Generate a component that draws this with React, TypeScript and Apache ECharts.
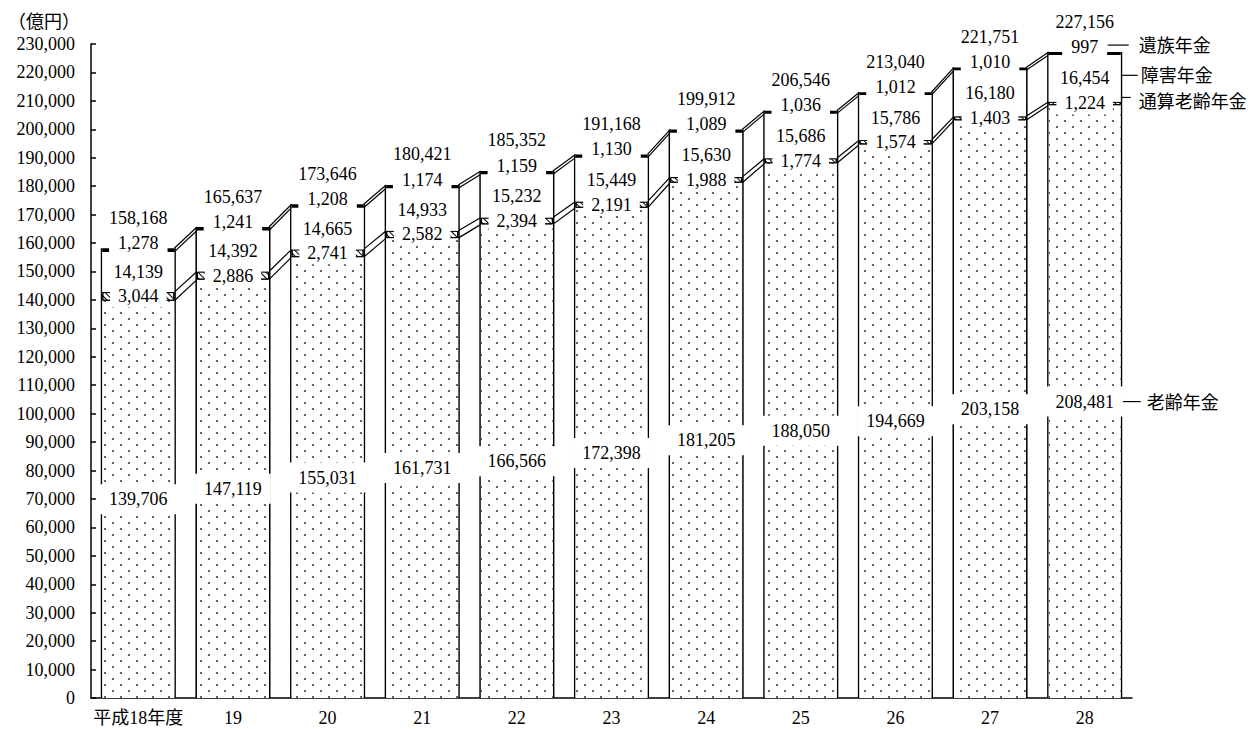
import React, { useEffect, useRef } from 'react';
import * as echarts from 'echarts';

const years = ['平成18年度', '19', '20', '21', '22', '23', '24', '25', '26', '27', '28'];
const roreiNenkin = [139706, 147119, 155031, 161731, 166566, 172398, 181205, 188050, 194669, 203158, 208481];
const tsusanRorei = [3044, 2886, 2741, 2582, 2394, 2191, 1988, 1774, 1574, 1403, 1224];
const shogaiNenkin = [14139, 14392, 14665, 14933, 15232, 15449, 15630, 15686, 15786, 16180, 16454];
const izokuNenkin = [1278, 1241, 1208, 1174, 1159, 1130, 1089, 1036, 1012, 1010, 997];
const totals = [158168, 165637, 173646, 180421, 185352, 191168, 199912, 206546, 213040, 221751, 227156];
const seriesNames = ['老齢年金', '通算老齢年金', '障害年金', '遺族年金'];
const yUnit = '（億円）';
const Y_MIN = 0;
const Y_MAX = 230000;
const Y_INTERVAL = 10000;

const FONT = "'Liberation Serif', 'Noto Sans CJK JP', serif";
const FS = 18;
const BAR_W = 72;
const fmt = (n: number) => n.toLocaleString('en-US');

export default function App() {
  const ref = useRef<HTMLDivElement>(null);
  useEffect(() => {
    const chart = echarts.init(ref.current!, null, { renderer: 'svg' });
    const c1 = roreiNenkin.slice();
    const c2 = c1.map((v, i) => v + tsusanRorei[i]);
    const c3 = c2.map((v, i) => v + shogaiNenkin[i]);
    const c4 = c3.map((v, i) => v + izokuNenkin[i]);

    const labelBase = {
      show: true,
      position: 'inside' as const,
      color: '#000',
      fontSize: FS,
      fontFamily: FONT,
      fontWeight: 'normal' as const,
      textBorderWidth: 0,
      textBorderColor: 'transparent',
      backgroundColor: '#fff',
      formatter: (p: any) => fmt(p.value),
    };

    const connectorData = years.slice(0, -1).map((_, i) => [
      i, c1[i], c2[i], c3[i], c4[i], c1[i + 1], c2[i + 1], c3[i + 1], c4[i + 1],
    ]);
    const sideData = years.map((_, i) => [i, c4[i]]);

    const option: any = {
      animation: false,
      backgroundColor: '#fff',
      grid: { left: 91, right: 118, top: 44, bottom: 31 },
      xAxis: {
        type: 'category',
        data: years,
        axisLine: { show: true, lineStyle: { color: '#000', width: 1.5 } },
        axisTick: { show: false },
        axisLabel: { color: '#000', fontSize: FS, fontFamily: FONT, margin: 11, interval: 0 },
      },
      yAxis: {
        type: 'value',
        min: Y_MIN,
        max: Y_MAX,
        interval: Y_INTERVAL,
        axisLine: { show: true, lineStyle: { color: '#000', width: 1.5 } },
        axisTick: { show: true, inside: true, length: 5, lineStyle: { color: '#000', width: 1.5 } },
        splitLine: { show: false },
        axisLabel: { color: '#000', fontSize: FS, fontFamily: FONT, margin: 16, formatter: (v: number) => fmt(v) },
      },
      series: [
        {
          name: 'side',
          type: 'custom',
          z: 1,
          silent: true,
          data: sideData,
          renderItem: (params: any, api: any) => {
            const i = api.value(0);
            const top = api.coord([i, api.value(1)]);
            const bot = api.coord([i, 0]);
            const h = BAR_W / 2 + 0.75;
            return {
              type: 'group',
              children: [-h, h].map((dx) => ({
                type: 'line',
                shape: { x1: top[0] + dx, y1: top[1], x2: top[0] + dx, y2: bot[1] },
                style: { stroke: '#000', lineWidth: 1.6 },
              })),
            };
          },
        },
        {
          name: seriesNames[0],
          type: 'bar',
          stack: 'total',
          barWidth: BAR_W,
          data: roreiNenkin,
          itemStyle: {
            color: '#fff',
            borderWidth: 0,
            decal: {
              symbol: 'circle',
              symbolSize: 0.95,
              color: '#333',
              backgroundColor: '#fff',
              dashArrayX: [[2, 14], [0, 8, 2, 6]],
              dashArrayY: [2, 4],
            },
          },
          label: { ...labelBase, padding: [6, 9] },
        },
        {
          name: seriesNames[1],
          type: 'bar',
          stack: 'total',
          barWidth: BAR_W,
          data: tsusanRorei,
          itemStyle: {
            color: '#fff',
            borderColor: '#000',
            borderWidth: 1,
            decal: {
              symbol: 'rect',
              symbolSize: 1,
              color: '#000',
              backgroundColor: '#fff',
              dashArrayX: [1, 0],
              dashArrayY: [1, 2.5],
              rotation: Math.PI / 4,
            },
          },
          label: { ...labelBase, padding: [2, 8] },
        },
        {
          name: seriesNames[2],
          type: 'bar',
          stack: 'total',
          barWidth: BAR_W,
          data: shogaiNenkin,
          itemStyle: { color: '#fff', borderWidth: 0 },
          label: { ...labelBase, padding: [2, 5] },
        },
        {
          name: seriesNames[3],
          type: 'bar',
          stack: 'total',
          barWidth: BAR_W,
          data: izokuNenkin,
          itemStyle: { color: '#000', borderWidth: 0 },
          label: { ...labelBase, offset: [0, -7], padding: [5, 9] },
        },
        {
          name: '合計',
          type: 'scatter',
          symbol: 'circle',
          symbolSize: 1,
          data: totals,
          itemStyle: { color: 'rgba(255,255,255,0)' },
          label: {
            show: true,
            position: 'top',
            distance: 21,
            color: '#000',
            opacity: 1,
            fontSize: FS,
            fontFamily: FONT,
            formatter: (p: any) => fmt(p.value),
          },
        },
        {
          name: 'connector',
          type: 'custom',
          z: 2,
          silent: true,
          data: connectorData,
          renderItem: (params: any, api: any) => {
            const i = api.value(0);
            const children = [];
            for (let k = 1; k <= 4; k++) {
              const p0 = api.coord([i, api.value(k)]);
              const p1 = api.coord([i + 1, api.value(k + 4)]);
              children.push({
                type: 'line',
                shape: { x1: p0[0] + BAR_W / 2, y1: p0[1], x2: p1[0] - BAR_W / 2, y2: p1[1] },
                style: { stroke: '#000', lineWidth: 1.2 },
              });
            }
            return { type: 'group', children };
          },
        },
      ],
    };
    chart.setOption(option);

    const last = years.length - 1;
    const px = (v: number) => chart.convertToPixel({ gridIndex: 0 }, [last, v]) as number[];
    const xr = px(0)[0] + BAR_W / 2;
    const yIzoku = px(c4[last])[1] - 7;
    const yShogai = px((c2[last] + c3[last]) / 2)[1] - 3;
    const yTsusan = px((c1[last] + c2[last]) / 2)[1];
    const yRorei = px(c1[last] / 2)[1];
    const textStyle = (text: string) => ({
      text,
      fill: '#000',
      fontSize: FS,
      fontFamily: FONT,
      verticalAlign: 'middle',
      align: 'left',
    });
    const lineStyle = { stroke: '#000', lineWidth: 1.2 };
    chart.setOption({
      graphic: [
        { type: 'text', x: 8, y: 22, style: textStyle(yUnit) },
        { type: 'line', shape: { x1: xr - 13, y1: yIzoku, x2: xr + 8, y2: yIzoku }, style: lineStyle },
        { type: 'text', x: xr + 18, y: yIzoku + 1, style: textStyle(seriesNames[3]) },
        { type: 'line', shape: { x1: xr - 8, y1: yShogai, x2: xr + 17, y2: yShogai }, style: lineStyle },
        { type: 'text', x: xr + 20, y: yShogai + 1, style: textStyle(seriesNames[2]) },
        { type: 'line', shape: { x1: xr - 8, y1: yTsusan - 6, x2: xr + 10, y2: yTsusan - 6 }, style: lineStyle },
        { type: 'text', x: xr + 18, y: yTsusan - 1, style: textStyle(seriesNames[1]) },
        { type: 'line', shape: { x1: xr, y1: yRorei, x2: xr + 20, y2: yRorei }, style: lineStyle },
        { type: 'text', x: xr + 26, y: yRorei + 1, style: textStyle(seriesNames[0]) },
      ],
    });

    return () => chart.dispose();
  }, []);
  return (
    <div
      ref={ref}
      style={{ position: 'fixed', left: 0, top: 0, width: 1250, height: 729, background: '#fff' }}
    />
  );
}
